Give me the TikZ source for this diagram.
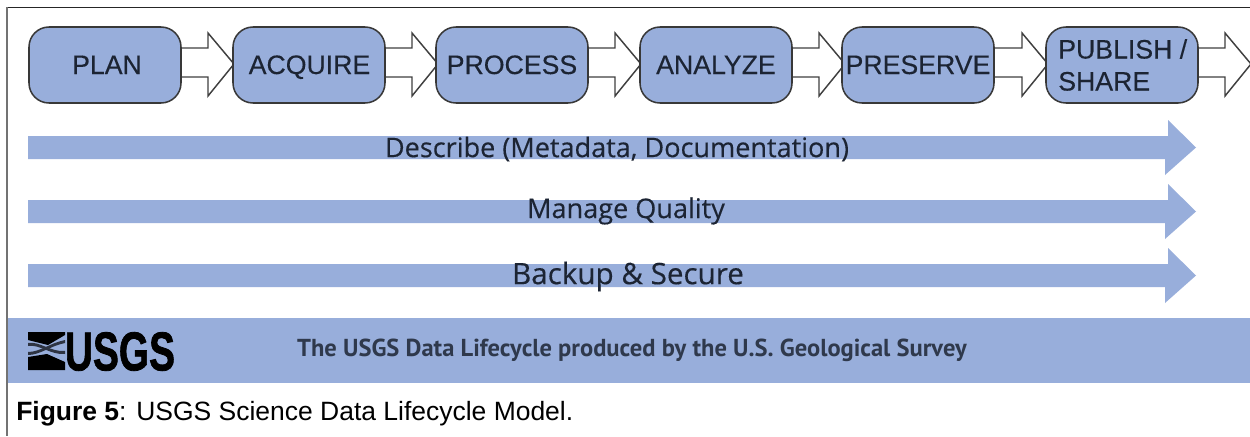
\documentclass[tikz,border=0pt]{standalone}
\usepackage{fontspec}
\setmainfont{Liberation Sans}
\newfontfamily\stagefont[FakeBold=0.3]{Liberation Sans}
\newfontfamily\bandfont[FakeBold=0.3]{Open Sans}
\newfontfamily\creditfont{PT Sans}
\newfontfamily\logofont[FakeBold=1.5]{Liberation Sans Bold}
\definecolor{lcblue}{HTML}{98AEDB}
\definecolor{lcink}{HTML}{1C2433}
\tikzset{
  x=0.75pt,y=-0.75pt,
  stagebox/.style={draw=black!78,line width=1.15pt,fill=lcblue,rounded corners=15pt,minimum width=114pt,minimum height=57pt},
  stagelabel/.style={font=\stagefont\fontsize{20pt}{24pt}\selectfont,text=lcink,inner sep=0pt,align=left},
  flowarrow/.style={draw=black!75,line width=1.1pt,fill=white,line join=miter},
  longarrow/.style={fill=lcblue,draw=none},
  longlabel/.style={font=\bandfont\fontsize{20.3pt}{24pt}\selectfont,text=lcink,inner sep=0pt},
}
\newcommand{\flowarrowat}[1]{%
  \draw[flowarrow] (#1,48) -- ++(27,0) -- ++(0,-15) -- ++(26,31) -- ++(-26,32) -- ++(0,-19) -- ++(-27,0);
}
\newcommand{\longarrowat}[1]{%
  \fill[longarrow] (28,#1-11.5) -- (1168,#1-11.5) -- (1168,#1-27.5) -- (1196,#1) -- (1165,#1+27.5) -- (1165,#1+11.5) -- (28,#1+11.5) -- cycle;
}
\begin{document}
\begin{tikzpicture}
\useasboundingbox (0,0) rectangle (1250,436);
\fill[white] (0,0) rectangle (1250,436);
% frame
\draw[black!85,line width=1.1pt] (7,7.5) -- (1250,7.5);
\draw[black!55,line width=1.4pt] (7,7) -- (7,436);
% band
\fill[lcblue] (8,318) rectangle (1250,383);
% flow arrows
\flowarrowat{181}\flowarrowat{385}\flowarrowat{588}\flowarrowat{792}\flowarrowat{995}\flowarrowat{1198}
% stages
\node[stagebox] (plan) at (105,65) {};
\node[stagelabel,anchor=base] at (107,74) {PLAN};
\node[stagebox] (acquire) at (309,65) {};
\node[stagelabel,anchor=base] at (309.5,74) {ACQUIRE};
\node[stagebox] (process) at (512,65) {};
\node[stagelabel,anchor=base] at (512,74) {PROCESS};
\node[stagebox] (analyze) at (716,65) {};
\node[stagelabel,anchor=base] at (716,74) {ANALYZE};
\node[stagebox] (preserve) at (918,65) {};
\node[stagelabel,anchor=base] at (918,74) {PRESERVE};
\node[stagebox] (publish) at (1122,65) {};
\node[stagelabel,anchor=west] at (1058,65) {PUBLISH /\\SHARE};
% long arrows
\longarrowat{147.5}\longarrowat{211.5}\longarrowat{275.5}
\node[longlabel] (describe) at (617,149) {Describe (Metadata, Documentation)};
\node[longlabel] (quality) at (626,211) {Manage Quality};
\node[longlabel,font=\bandfont\fontsize{22.2pt}{26pt}\selectfont] (backup) at (628,276.5) {Backup \& Secure};
% logo
\fill[black] (28,332) -- (65,332) -- (65,335) -- (48,345) -- (28,340) -- cycle;
\fill[black] (28,357) -- (47,354) -- (65,362) -- (65,370) -- (28,370) -- cycle;
\fill[black!70!lcblue] (28,343) .. controls (40,341) and (50,352) .. (65,351) -- (65,354) .. controls (50,355) and (40,344) .. (28,346) -- cycle;
\fill[black!70!lcblue] (28,352) .. controls (40,352) and (50,343) .. (65,340) -- (65,343) .. controls (50,346) and (40,355) .. (28,355) -- cycle;
\node[inner sep=0pt,text=black,font=\logofont\fontsize{41pt}{44pt}\selectfont,xscale=0.71] (usgs) at (120,351.5) {USGS};
\node[inner sep=0pt,text=lcink!85!lcblue,font=\creditfont\bfseries\fontsize{18.4pt}{22pt}\selectfont] (credit) at (632,350) {The USGS Data Lifecycle produced by the U.S. Geological Survey};
% caption
\node[anchor=west,inner sep=0pt,text=black,font=\fontsize{19.85pt}{24pt}\selectfont] (caption) at (16,414) {\textbf{Figure 5}: USGS Science Data Lifecycle Model.};
\end{tikzpicture}
\end{document}
